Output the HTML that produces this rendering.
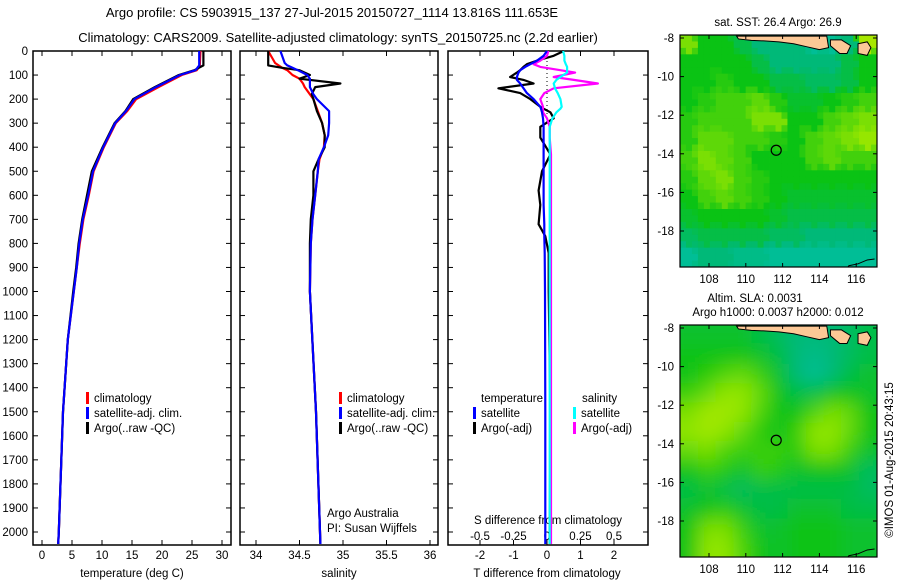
<!DOCTYPE html>
<html><head><meta charset="utf-8">
<style>
body{margin:0;background:#fff;}
svg{display:block;font-family:"Liberation Sans",sans-serif;}
text{font-size:11.5px;fill:#000;}
</style></head>
<body>
<svg id="fig" width="900" height="580" viewBox="0 0 900 580">
<text x="332" y="17" text-anchor="middle" style="font-size:13px">Argo profile: CS 5903915_137 27-Jul-2015 20150727_1114 13.816S 111.653E</text>
<text x="338" y="42" text-anchor="middle" style="font-size:13px">Climatology: CARS2009. Satellite-adjusted climatology: synTS_20150725.nc (2.2d earlier)</text>
<g id="g"></g>
</svg>
<script>
// ---------- data ----------
const depthTicks=[0,100,200,300,400,500,600,700,800,900,1000,1100,1200,1300,1400,1500,1600,1700,1800,1900,2000];
const tempTicks=[0,5,10,15,20,25,30];
const salTicks=[34,34.5,35,35.5,36];
const tdiffTicks=[-2,-1,0,1,2];
const sdiffTicks=[-0.5,-0.25,0,0.25,0.5];
const sdiffLabels=["-0.5","-0.25","0","0.25","0.5"];
const tDepth=[0,60,80,100,150,200,250,300,400,500,600,700,800,900,1000,1200,1500,2000,2050];
const tClim=[26.4,26.3,25.8,23.3,19.4,15.7,14.2,12.3,10.3,8.6,7.8,6.9,6.3,5.8,5.3,4.3,3.5,2.8,2.7];
const tSat=[26.2,26.2,25.6,23.0,19.0,15.4,14.0,12.2,10.2,8.5,7.7,6.8,6.2,5.8,5.3,4.3,3.5,2.8,2.7];
const tArgo=[26.9,26.9,25.4,22.8,18.8,15.2,13.9,12.1,10.1,8.3,7.5,6.7,6.1,5.7,5.2,4.3,3.5,2.8,2.7];
const sDepth=[0,50,60,70,80,100,115,135,150,180,200,250,300,350,400,450,500,600,700,800,1000,1500,2050];
const sClim=[34.14,34.22,34.26,34.3,34.36,34.42,34.5,34.54,34.56,34.62,34.66,34.71,34.76,34.79,34.78,34.73,34.71,34.68,34.65,34.63,34.62,34.69,34.74];
const sSat=[34.28,34.33,34.36,34.42,34.48,34.59,34.62,34.62,34.62,34.66,34.7,34.84,34.84,34.83,34.78,34.72,34.71,34.68,34.65,34.63,34.62,34.69,34.74];
const sArgo=[34.14,34.14,34.14,34.3,34.5,34.62,34.5,34.97,34.68,34.64,34.66,34.7,34.76,34.79,34.79,34.72,34.66,34.66,34.63,34.62,34.62,34.69,34.74];
const dDepth=[0,20,40,55,66,80,90,108,120,135,155,175,200,232,240,255,280,315,360,430,500,580,640,720,770,840,1000,1500,2050];
const dTSat=[0,-0.1,-0.3,-0.5,-0.65,-0.8,-0.85,-0.9,-0.9,-0.8,-0.7,-0.6,-0.4,-0.2,-0.18,-0.15,-0.12,-0.1,-0.1,-0.1,-0.1,-0.1,-0.1,-0.08,-0.08,-0.07,-0.06,-0.05,-0.05];
const dTArgo=[0.5,0.2,-0.3,-0.6,-0.7,-0.8,-0.9,-1.1,-0.7,-0.4,-1.45,-0.8,-0.5,-0.2,-0.1,0.1,0.2,-0.2,-0.2,0.1,-0.15,-0.25,-0.2,-0.25,-0.05,0.05,0.05,0.1,0.08];
const dSSat=[0.12,0.13,0.13,0.14,0.15,0.15,0.15,0.1,0.07,0.05,0.06,0.08,0.1,0.11,0.1,0.07,0.04,0.02,0.02,0.02,0.02,0.02,0.02,0.02,0.02,0.02,0.02,0.02,0.02];
const dSArgo=[0.01,0,-0.05,-0.1,-0.05,0.1,0.21,0.05,0.2,0.38,0.05,-0.02,-0.05,-0.03,-0.03,-0.03,0,0.02,0.02,0.03,0.03,0.03,0.03,0.03,0.03,0.03,0.03,0.03,0.03];
const lonTicks=[108,110,112,114,116];
const latTicks=[-8,-10,-12,-14,-16,-18];
const sstGrid=[
[.7,.5,.5,.4,.3,.3,.3,.2,.2,.3,.8],
[.5,.5,.5,.5,.4,.3,.3,.3,.3,.4,.5],
[.5,.5,.55,.5,.5,.4,.4,.35,.35,.4,.5],
[.5,.55,.6,.6,.65,.55,.45,.45,.5,.55,.6],
[.55,.6,.6,.6,.7,.7,.5,.5,.6,.65,.7],
[.55,.65,.65,.6,.6,.55,.5,.6,.65,.7,.75],
[.6,.7,.65,.6,.5,.5,.5,.6,.65,.6,.6],
[.55,.65,.7,.6,.55,.5,.5,.5,.5,.5,.5],
[.5,.6,.65,.6,.55,.5,.45,.45,.45,.45,.45],
[.45,.5,.5,.5,.5,.45,.4,.4,.4,.4,.4],
[.35,.4,.4,.4,.4,.35,.35,.3,.3,.3,.3],
[.2,.3,.3,.25,.25,.2,.2,.2,.2,.2,.2]];
const slaGrid=[
[.45,.45,.45,.45,.4,.35,.3,.3,.3,.35,.4],
[.5,.5,.5,.5,.45,.4,.3,.25,.3,.35,.4],
[.5,.55,.62,.66,.58,.45,.3,.2,.3,.4,.45],
[.58,.66,.74,.74,.66,.5,.4,.4,.5,.5,.45],
[.7,.78,.78,.74,.62,.5,.5,.62,.7,.66,.5],
[.74,.78,.74,.66,.55,.5,.58,.74,.74,.66,.5],
[.66,.7,.62,.58,.58,.58,.55,.7,.7,.58,.45],
[.5,.58,.55,.45,.58,.55,.45,.5,.5,.45,.35],
[.4,.45,.4,.35,.4,.4,.4,.4,.4,.4,.35],
[.45,.5,.55,.45,.4,.4,.45,.45,.45,.4,.4],
[.5,.7,.7,.58,.45,.45,.5,.5,.5,.45,.45],
[.5,.74,.74,.62,.5,.45,.5,.5,.5,.45,.45]];
const floatLon=111.653, floatLat=-13.816;

// ---------- helpers ----------
const NS="http://www.w3.org/2000/svg";
const G=document.getElementById('g');
function mk(tag,at,par){const e=document.createElementNS(NS,tag);for(const k in at)e.setAttribute(k,at[k]);(par||G).appendChild(e);return e;}
function txt(x,y,s,anchor,par){const t=mk('text',{x:x,y:y,'text-anchor':anchor||'start'},par);t.textContent=s;return t;}
const yD=d=>51+d*0.2405;
const PB=545;
function frame(x0,x1,name){
  const r=mk('rect',{x:x0,y:51,width:x1-x0,height:PB-51,fill:'none',stroke:'#000','stroke-width':1.5});
  
  
  depthTicks.forEach(d=>{mk('line',{x1:x0,x2:x0+5,y1:yD(d),y2:yD(d),stroke:'#000'});mk('line',{x1:x1-5,x2:x1,y1:yD(d),y2:yD(d),stroke:'#000'});});
}
function xticks(x0,x1,ticks,f,labels,ly){
  ticks.forEach((v,i)=>{const x=f(v);mk('line',{x1:x,x2:x,y1:51,y2:56,stroke:'#000'});mk('line',{x1:x,x2:x,y1:PB-5,y2:PB,stroke:'#000'});
  const t=txt(x,ly,labels?labels[i]:String(v),'middle');
  
  });
}
function line(ds,vs,f,color,name,w){
  const pts=ds.map((d,i)=>f(vs[i]).toFixed(1)+','+yD(d).toFixed(1)).join(' ');
  const p=mk('polyline',{points:pts,fill:'none',stroke:color,'stroke-width':w||2.2,'stroke-linejoin':'round'});
  
  
}
function legend(x,y,color,label){
  mk('rect',{x:x,y:y-10,width:3,height:12,fill:color});
  const t=txt(x+8,y,label);
  
  
}
depthTicks.forEach(d=>{const t=txt(28,yD(d)+4,String(d),'end');

});

// ---------- panel 1 temperature ----------
const xT=t=>42+6*t;
frame(33,231,'temperature-panel');
xticks(33,231,tempTicks,xT,null,559);
line(tDepth,tClim,xT,'#f00','temp-climatology-line');
line(tDepth,tArgo,xT,'#000','temp-argo-line');
line(tDepth,tSat,xT,'#00f','temp-satellite-line');
legend(86,402,'#f00','climatology');legend(86,417,'#00f','satellite-adj. clim.');legend(86,432,'#000','Argo(..raw -QC)');
let at=txt(132,577,'temperature (deg C)','middle');



// ---------- panel 2 salinity ----------
const xS=s=>256+87*(s-34);
frame(240,438,'salinity-panel');
xticks(240,438,salTicks,xS,null,559);
line(sDepth,sClim,xS,'#f00','sal-climatology-line');
line(sDepth,sArgo,xS,'#000','sal-argo-line');
line(sDepth,sSat,xS,'#00f','sal-satellite-line');
legend(339,402,'#f00','climatology');legend(339,417,'#00f','satellite-adj. clim.');legend(339,432,'#000','Argo(..raw -QC)');
txt(327,517,'Argo Australia');txt(327,532,'PI: Susan Wijffels');
at=txt(339,577,'salinity','middle');



// ---------- panel 3 differences ----------
const xdT=v=>547+33.5*v, xdS=v=>547+134*v;
frame(448,648,'difference-panel');
xticks(448,648,tdiffTicks,xdT,null,559);
sdiffTicks.forEach((v,i)=>{const t=txt(xdS(v),540,sdiffLabels[i],'middle');

});
txt(548,524,'S difference from climatology','middle');
for(let y=53;y<yD(300);y+=4)mk('rect',{x:546.5,y:y,width:1,height:1,fill:'#000'});
line(dDepth,dTArgo,xdT,'#000','tdiff-argo-line');
line(dDepth,dSArgo,xdS,'#f0f','sdiff-argo-line');
line(dDepth,dSSat,xdS,'#0ff','sdiff-satellite-line');
line(dDepth,dTSat,xdT,'#00f','tdiff-satellite-line');
txt(481,402,'temperature');txt(582,402,'salinity');
legend(473,417,'#00f','satellite');legend(473,432,'#000','Argo(-adj)');
legend(573,417,'#0ff','satellite');legend(573,432,'#f0f','Argo(-adj)');
at=txt(547,577,'T difference from climatology','middle');



// ---------- maps ----------
function col(v){
  const st=[[0,[0,200,210]],[0.3,[0,185,120]],[0.5,[10,195,20]],[0.75,[150,230,0]],[1,[235,235,0]]];
  for(let i=1;i<st.length;i++){if(v<=st[i][0]){const a=st[i-1],b=st[i],t=(v-a[0])/(b[0]-a[0]);
    return 'rgb('+a[1].map((c,k)=>Math.round(c+(b[1][k]-c)*t)).join(',')+')';}}
  return 'rgb(235,235,0)';
}
function map(top,grid,blur,name,cid){
  const L=680,R=877,B=top+232;
  const xL=lon=>709+(lon-108)*18.4, yL=lat=>top+3+(-8-lat)*19.3;
  const defs=mk('defs',{});
  const cp=mk('clipPath',{id:cid},defs);mk('rect',{x:L,y:top,width:R-L,height:B-top},cp);
  if(blur){const f=mk('filter',{id:cid+'b',x:'-10%',y:'-10%',width:'120%',height:'120%'},defs);mk('feGaussianBlur',{stdDeviation:9},f);}
  const g=mk('g',{'clip-path':'url(#'+cid+')'});
  
  
  const gg=mk('g',blur?{filter:'url(#'+cid+'b)'}:{},g);
  const nr=grid.length,nc=grid[0].length,cw=(R-L)/nc,ch=(B-top)/nr;
  for(let r=-1;r<=nr;r++)for(let c=-1;c<=nc;c++){
    const rr=Math.min(nr-1,Math.max(0,r)),cc=Math.min(nc-1,Math.max(0,c));
    if(blur) mk('rect',{x:L+c*cw,y:top+r*ch,width:cw+0.5,height:ch+0.5,fill:col(grid[rr][cc])},gg);
    else {
      if(r<0||c<0||r>=nr||c>=nc)continue;
      for(let i=0;i<3;i++)for(let j=0;j<3;j++){
        const nr2=Math.min(nr-1,r+(i==2?1:0)),nc2=Math.min(nc-1,c+(j==2?1:0));
        const v=(i+j)%2?grid[r][c]:(grid[r][c]+grid[nr2][nc2])/2;
        mk('rect',{x:L+c*cw+j*cw/3,y:top+r*ch+i*ch/3,width:cw/3+0.4,height:ch/3+0.4,fill:col(v)},gg);
      }
    }
  }
  const land=[[109.5,-7.9],[109.6,-8.05],[110.3,-8.12],[111,-8.15],[111.8,-8.2],[112.6,-8.3],[113.3,-8.45],[114,-8.6],[114.5,-8.5],[114.4,-7.9]];
  mk('polygon',{points:land.map(p=>xL(p[0])+','+yL(p[1])).join(' '),fill:'#fcc896',stroke:'#000','stroke-width':1},g);
  const bali=[[114.6,-8.1],[115.2,-8.1],[115.7,-8.4],[115.5,-8.8],[115.1,-8.8],[114.6,-8.4]];
  mk('polygon',{points:bali.map(p=>xL(p[0])+','+yL(p[1])).join(' '),fill:'#fcc896',stroke:'#000','stroke-width':1},g);
  const lombok=[[116.1,-8.3],[116.6,-8.2],[116.8,-8.5],[116.6,-8.9],[116.1,-8.8]];
  mk('polygon',{points:lombok.map(p=>xL(p[0])+','+yL(p[1])).join(' '),fill:'#fcc896',stroke:'#000','stroke-width':1},g);
  const aus=[[115.4,-20.1],[115.6,-19.8],[116.1,-19.7],[116.6,-19.5],[117,-19.45]];
  mk('polyline',{points:aus.map(p=>xL(p[0])+','+yL(p[1])).join(' '),fill:'none',stroke:'#000','stroke-width':1},g);
  const fl=mk('circle',{cx:xL(floatLon),cy:yL(floatLat),r:5,fill:'none',stroke:'#000','stroke-width':1.2});
  
  
  mk('rect',{x:L,y:top,width:R-L,height:B-top,fill:'none',stroke:'#000','stroke-width':1.2});
  lonTicks.forEach(v=>{const x=xL(v);mk('line',{x1:x,x2:x,y1:top,y2:top+4,stroke:'#000'});mk('line',{x1:x,x2:x,y1:B-4,y2:B,stroke:'#000'});
    const t=txt(x,B+16,String(v),'middle');
    
    });
  latTicks.forEach(v=>{const y=yL(v);mk('line',{x1:L,x2:L+4,y1:y,y2:y,stroke:'#000'});mk('line',{x1:R-4,x2:R,y1:y,y2:y,stroke:'#000'});
    const t=txt(L-6,y+4,String(v),'end');
    
    });
}
map(35,sstGrid,false,'sst-map','c1');
map(325,slaGrid,true,'sla-map','c2');
txt(778,26,'sat. SST: 26.4  Argo: 26.9','middle');
txt(755,302,'Altim. SLA: 0.0031','middle');
txt(778,316,'Argo h1000: 0.0037 h2000: 0.012','middle');
const cr=mk('text',{x:0,y:0,transform:'translate(893,460) rotate(-90)','text-anchor':'middle'});
cr.textContent='©IMOS 01-Aug-2015 20:43:15';


</script>
</body></html>
